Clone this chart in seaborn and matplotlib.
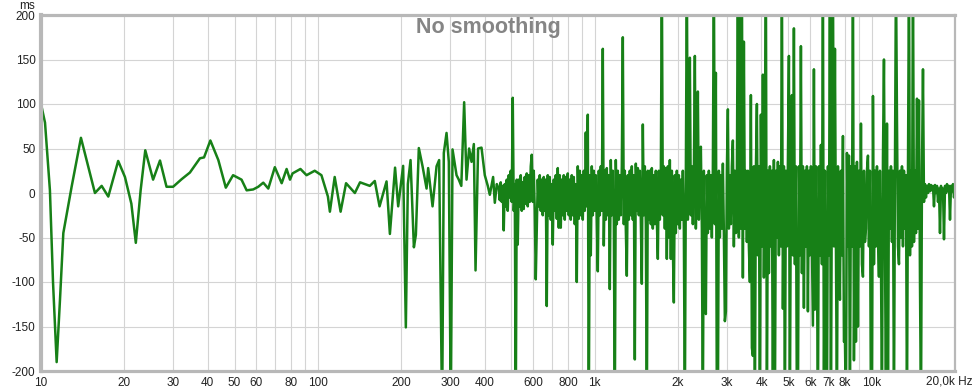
import numpy as np
import pandas as pd
import matplotlib
matplotlib.use("Agg")
import matplotlib.pyplot as plt
import seaborn as sns

# ---------------- data ----------------
# smooth low-frequency part: frequency (Hz) and group delay (ms)
low_freq = [10.0, 10.34, 10.77, 11.05, 11.39, 11.71, 12.04, 12.9, 13.94, 14.8,
            15.66, 16.56, 17.5, 19.0, 20.1, 21.2, 22.0, 22.9, 23.8, 25.4,
            26.9, 28.4, 30.0, 32.2, 34.5, 37.5, 38.8, 40.9, 43.7, 46.5,
            49.4, 53.0, 55.3, 58.4, 60.9, 63.5, 66.2, 69.9, 74.0, 77.1,
            79.3, 81.0, 86.5, 91.0, 97.4, 103.0, 108.7, 110.5, 115.0, 120.8,
            126.4, 136.0, 142.0, 154.0, 160.5, 167.0, 177.0, 182.0, 190.0, 195.0,
            203.2, 207.8, 211.3, 216.1, 222.2, 225.9, 231.5, 238.8, 246.9, 250.2,
            259.5, 268.3, 274.1, 281.0, 285.0, 291.5, 297.1, 302.0, 306.4, 316.8,
            322.8, 329.6, 337.5, 344.2, 351.7, 358.9, 365.8, 371.0, 379.0, 389.9,
            400.7, 410.8, 417.8, 429.4, 435.5, 442.8]
low_gd = [100, 79, 3, -100, -190, -120, -45, 7, 62, 30,
          0, 8, -4, 36, 18, -12, -56, 3, 48, 15,
          36.5, 7, 7, 15.5, 23, 39, 40, 59, 37, 6,
          20, 15, 3, 4, 7, 11.6, 5, 29, 11, 27,
          15, 22, 27, 20, 25, 20, -4, -21, 18, -21,
          11, 0, 12, 8, 13.5, -15, 13, -46, 28.5, -15,
          30.5, -151, 10, 37, -61, -47, 50.5, 30, 5, 28,
          -15, 30, 37, -250, 45, 67.5, 35, -250, 49, 20,
          15, 8, 102, 15, 50, 35, 55, -87, 50, 51,
          20, 8, -2, 18, -11, 10]

# dense high-frequency part (450 Hz .. 20 kHz), group delay (ms)
dense_f_start = 450.0
dense_f_stop = 20000.0
dense_gd = [
    5, -8, 12, -10, 8, -42, 10, -15, 15, -20,
    20, -5, 25, -10, 107, -20, 10, -250, 15, -58,
    15, -15, 20, -20, 12, -18, 18, -12, 22, -15,
    20, -10, 30, 43, -10, 25, -20, -97, -39, 15,
    -15, 20, -20, 15, -25, 18, -20, 15, -127, 20,
    -25, 18, -30, 10, -58, 15, -20, 20, -29, 28,
    -39, 20, -39, 15, -25, 20, -30, 18, -20, 22,
    -25, 15, -30, 20, -25, 18, -35, 10, -100, 30,
    -29, 25, -25, 20, -30, 25, -20, 68, -15, 88,
    -250, 20, -70, 30, -25, 25, -20, 20, -30, -88,
    25, -25, 30, -20, 162, -59, 25, -30, 28, -25,
    20, -108, 37, -25, 25, -30, -250, 37, -35, 25,
    -30, 20, -25, 30, 175, -35, 25, -40, -93, 20,
    -30, 25, -25, 30, -30, 20, -187, 33, -20, 28,
    -25, 25, -30, -102, 77, -25, 30, -35, -250, 25,
    -30, 25, -35, 28, -40, 20, -35, 25, -30, -74,
    25, -30, 20, 250, -25, 30, -40, 28, -74, 30,
    -50, 37, -74, 25, -60, -123, 20, -45, 25, -35,
    20, -40, 15, -30, 25, -40, -250, 20, 250, -30,
    25, 152, -25, 30, -35, 20, 154, -40, 25, 114,
    -30, 30, 52, -40, -250, 25, -127, -136, 20, -45,
    25, -40, 20, -50, 28, 250, -35, 135, -250, -250,
    25, -50, 20, -40, 33, -45, -144, -133, 25, 94,
    -40, 20, -35, 30, 59, -60, 25, -45, 20, 250,
    -50, 250, -40, 250, -95, 170, -40, 25, -55, 25,
    -60, -100, 110, -174, -183, 30, -250, 25, 100, -70,
    30, -250, 88, -60, 133, -95, 30, 250, -250, 25,
    -90, 30, -60, 25, -250, 37, -250, 25, -50, 35,
    -70, 30, -60, 250, -130, 30, -250, 25, -60, 35,
    154, -250, 30, 110, -70, 185, -80, 30, -250, -250,
    30, -70, 165, -90, 30, -129, 25, -60, 30, -133,
    25, -70, 30, -60, -149, 139, -131, 30, -70, -250,
    30, -70, 54, -80, 250, -250, 25, -125, -250, 30,
    -70, 250, -250, 30, 250, -60, 162, -60, -250, 30,
    -55, -120, 25, -70, 64, -167, -164, -250, 45, -60,
    42, -250, 30, -60, 250, -188, 30, -167, 35, -150,
    25, -60, 78, -80, -94, 25, -55, -40, 25, 42,
    -60, 25, -250, -250, 109, -80, 25, -60, 30, -50,
    -94, 25, -70, -250, 40, 150, -60, -250, 78, -250,
    25, -40, 30, -55, 25, -250, 30, 250, 84, -60,
    -80, 25, -50, 30, -60, 25, -40, 20, -250, 25,
    250, -70, 25, -60, 250, -55, 25, -45, 106, -40,
    104, -100, -250, 25, 139, -10, 10, -5, 8, 0,
    10, 2, 9, 3, 8, -15, 9, 0, 8, -10,
    5, -45, 8, -5, 5, -52, 8, 0, 10, 2,
    8, -30, 8, 2, 10, -5, 5]

y_ticks = [-200, -150, -100, -50, 0, 50, 100, 150, 200]
x_grid = [10, 20, 30, 40, 50, 60, 70, 80, 90,
          100, 200, 300, 400, 500, 600, 700, 800, 900,
          1000, 2000, 3000, 4000, 5000, 6000, 7000, 8000, 9000,
          10000, 20000]
x_tick_labels = {10: "10", 20: "20", 30: "30", 40: "40", 50: "50", 60: "60",
                 80: "80", 100: "100", 200: "200", 300: "300", 400: "400",
                 600: "600", 800: "800", 1000: "1k", 2000: "2k", 3000: "3k",
                 4000: "4k", 5000: "5k", 6000: "6k", 7000: "7k", 8000: "8k",
                 10000: "10k"}
last_label = "20,0k Hz"
title_text = "No smoothing"
y_unit = "ms"

# ---------------- plot ----------------
sns.set_style("white")
plt.rcParams['font.family'] = ['Liberation Sans', 'DejaVu Sans']

W, H = 975, 392
fig = plt.figure(figsize=(W / 100, H / 100), dpi=100)
ax = fig.add_axes([41 / W, 21 / H, 914 / W, 356 / H])

dense_freq = np.geomspace(dense_f_start, dense_f_stop, len(dense_gd))
df = pd.DataFrame({
    "freq": np.concatenate([np.array(low_freq, float), dense_freq]),
    "gd": np.array(low_gd + dense_gd, float),
})
sns.lineplot(data=df, x="freq", y="gd", ax=ax, sort=False, estimator=None,
             color="#178017", linewidth=1.8, zorder=3)

ax.set_xscale("log")
ax.set_xlim(10, 20000)
ax.set_ylim(-200, 200)
ax.set_xlabel("")
ax.set_ylabel("")

ax.set_xticks(x_grid)
ax.set_xticks([], minor=True)
ax.set_xticklabels([x_tick_labels.get(v, "") for v in x_grid])
ax.set_yticks(y_ticks)
ax.set_yticklabels([str(v) for v in y_ticks])
ax.tick_params(axis="both", length=0, labelsize=8.5, labelcolor="#222222")
ax.tick_params(axis="x", pad=4)
ax.tick_params(axis="y", pad=4)

ax.grid(True, color="#d4d4d4", linewidth=0.8, zorder=0)
ax.set_axisbelow(True)
for side, lw in (("left", 3.0), ("top", 2.3), ("bottom", 2.3), ("right", 1.6)):
    ax.spines[side].set_visible(True)
    ax.spines[side].set_color("#b8b8b8")
    ax.spines[side].set_linewidth(lw)
    ax.spines[side].set_zorder(4)

fig.text(949 / W, 1 - 381 / H, last_label, ha="center", va="center",
         fontsize=8.5, color="#222222")
fig.text(27 / W, 1 - 6 / H, y_unit, ha="center", va="center",
         fontsize=8.5, color="#222222")
fig.text(488 / W, 1 - 28 / H, title_text, ha="center", va="center",
         fontsize=15.5, fontweight="bold", color="#858585", zorder=5)

fig.savefig("out.png", dpi=100)
